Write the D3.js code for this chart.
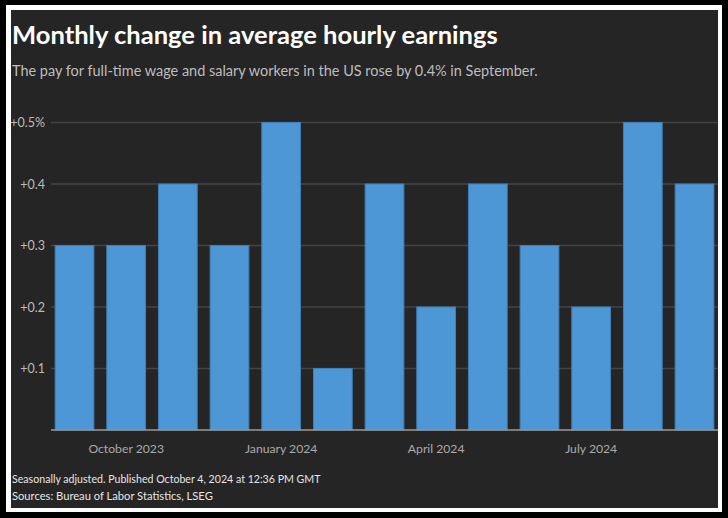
<!DOCTYPE html>
<html>
<head>
<meta charset="utf-8">
<script src="https://cdn.jsdelivr.net/npm/d3@7"></script>
<style>
  html, body { margin: 0; padding: 0; background: #000; }
  svg { display: block; }
  text { font-family: Lato, "Noto Sans", sans-serif; }
</style>
</head>
<body>
<div id="chart"></div>
<script>
const months = ["2023-09", "2023-10", "2023-11", "2023-12", "2024-01", "2024-02", "2024-03",
  "2024-04", "2024-05", "2024-06", "2024-07", "2024-08", "2024-09"];
const changes = [0.3, 0.3, 0.4, 0.3, 0.5, 0.1, 0.4, 0.2, 0.4, 0.3, 0.2, 0.5, 0.4];
const yTicks = [0.1, 0.2, 0.3, 0.4, 0.5];
const xTickLabels = { "2023-10": "October 2023", "2024-01": "January 2024", "2024-04": "April 2024", "2024-07": "July 2024" };

const W = 728, H = 518;

const svg = d3.select("#chart").append("svg")
  .attr("width", W)
  .attr("height", H);

// frame
svg.append("rect").attr("x", 6).attr("y", 5).attr("width", 716).attr("height", 507).attr("fill", "#fff");
svg.append("rect").attr("x", 11).attr("y", 10).attr("width", 707).attr("height", 498).attr("fill", "#252525");

// fit text to a measured width
function fitText(sel, target) {
  const len = sel.node().getComputedTextLength();
  const fs = parseFloat(sel.style("font-size"));
  sel.style("font-size", (fs * target / len) + "px");
}

const title = svg.append("text")
  .attr("x", 12).attr("y", 44)
  .style("font-size", "24px")
  .style("font-weight", "700")
  .style("fill", "#fff")
  .text("Monthly change in average hourly earnings");
fitText(title, 486);

const subtitle = svg.append("text")
  .attr("x", 12).attr("y", 76)
  .style("font-size", "15px")
  .style("fill", "#bdbdbd")
  .text("The pay for full-time wage and salary workers in the US rose by 0.4% in September.");
fitText(subtitle, 526);

const x = d3.scaleBand()
  .domain(months)
  .range([51, 718])
  .paddingInner(0.25)
  .paddingOuter(0.08);

const y = d3.scaleLinear()
  .domain([0, 0.5])
  .range([430, 122.5]);

// gridlines
svg.append("g")
  .selectAll("line")
  .data(yTicks)
  .join("line")
  .attr("x1", 51).attr("x2", 718)
  .attr("y1", d => y(d)).attr("y2", d => y(d))
  .attr("stroke", "#444")
  .attr("stroke-width", 1.5);

svg.append("g")
  .selectAll("text")
  .data(yTicks)
  .join("text")
  .attr("x", 45)
  .attr("y", d => y(d) + 4.5)
  .attr("text-anchor", "end")
  .style("font-size", "12.5px")
  .style("fill", "#bbb")
  .text(d => "+" + d3.format(".1f")(d) + (d === 0.5 ? "%" : ""));

// bars
svg.append("g")
  .selectAll("rect")
  .data(months)
  .join("rect")
  .attr("x", d => x(d))
  .attr("width", x.bandwidth())
  .attr("y", (d, i) => y(changes[i]))
  .attr("height", (d, i) => y(0) - y(changes[i]))
  .attr("fill", "#4e97d6")
  .attr("stroke", "#3f7fb5")
  .attr("stroke-width", 1);

// baseline
svg.append("line")
  .attr("x1", 51).attr("x2", 718)
  .attr("y1", y(0)).attr("y2", y(0))
  .attr("stroke", "#999")
  .attr("stroke-width", 1.5);

// x axis labels
const xAxis = svg.append("g")
  .attr("transform", `translate(0,${y(0)})`)
  .call(d3.axisBottom(x)
    .tickValues(Object.keys(xTickLabels))
    .tickSize(0)
    .tickPadding(14)
    .tickFormat(d => xTickLabels[d]));
xAxis.select(".domain").remove();
xAxis.selectAll("text")
  .style("font-family", "Lato, 'Noto Sans', sans-serif")
  .style("font-size", "12.2px")
  .style("fill", "#aaa");

// footer
const note = svg.append("text")
  .attr("x", 12).attr("y", 483)
  .style("font-size", "11.5px")
  .style("fill", "#e6e6e6")
  .text("Seasonally adjusted. Published October 4, 2024 at 12:36 PM GMT");
fitText(note, 309);

const source = svg.append("text")
  .attr("x", 12).attr("y", 500)
  .style("font-size", "11.5px")
  .style("fill", "#e6e6e6")
  .text("Sources: Bureau of Labor Statistics, LSEG");
fitText(source, 201);
</script>
</body>
</html>
